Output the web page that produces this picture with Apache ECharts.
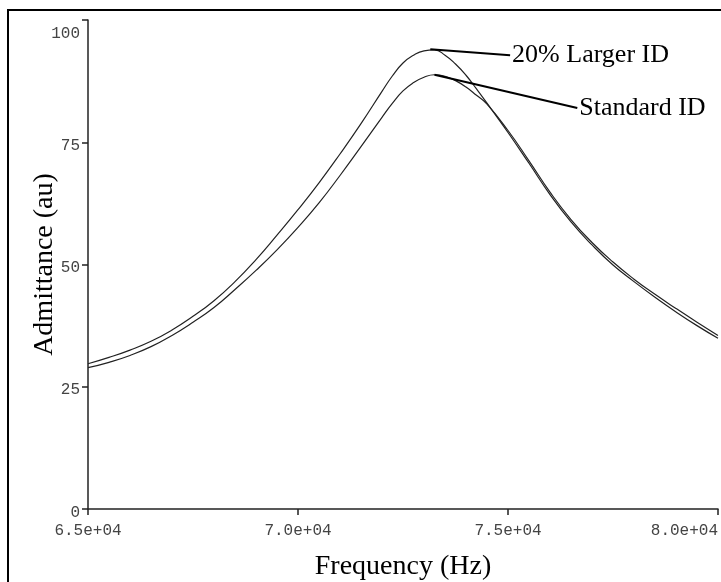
<!DOCTYPE html>
<html>
<head>
<meta charset="utf-8">
<script src="https://cdn.jsdelivr.net/npm/echarts@6/dist/echarts.min.js"></script>
<style>
html,body{margin:0;padding:0;background:#fff;}
#chart{width:721px;height:582px;}
</style>
</head>
<body>
<div id="chart"></div>
<script>
// Frequency samples (Hz)
const freqs = [65000, 65500, 66000, 66500, 67000, 67500, 68000, 68500, 69000, 69500,
  70000, 70500, 71000, 71500, 72000, 72250, 72500, 72750, 73000, 73250,
  73500, 73750, 74000, 74250, 74500, 75000, 75500, 76000, 76500, 77000,
  77500, 78000, 78500, 79000, 79500, 80000];
// Admittance (au) - 20% larger ID
const largerID = [29.7, 31.0, 32.5, 34.3, 36.6, 39.4, 42.6, 46.5, 51.0, 56.0,
  61.2, 66.7, 72.6, 78.8, 85.4, 88.6, 91.2, 92.8, 93.7, 93.9,
  92.8, 91.0, 88.7, 85.9, 83.0, 77.0, 70.7, 64.3, 58.7, 54.0,
  49.9, 46.5, 43.3, 40.3, 37.5, 34.9];
// Admittance (au) - standard ID
const standardID = [28.9, 30.0, 31.4, 33.2, 35.5, 38.2, 41.2, 44.9, 48.8, 53.0,
  57.6, 62.6, 68.2, 74.1, 80.1, 83.0, 85.5, 87.2, 88.3, 88.8,
  88.5, 87.6, 86.3, 84.6, 82.8, 77.4, 71.2, 64.8, 59.2, 54.5,
  50.5, 47.0, 43.9, 41.0, 38.2, 35.5];
const xTickValues = [65000, 70000, 75000, 80000];
const xTickLabels = ['6.5e+04', '7.0e+04', '7.5e+04', '8.0e+04'];
const yTickValues = [0, 25, 50, 75, 100];
// Annotation pointers: [from point, to point] in data units
const annotLabels = ['20% Larger ID', 'Standard ID'];
const annotFrom = [[73150, 94.0], [73250, 88.8]];
const annotTo = [[75050, 92.8], [76650, 82.0]];

const serif = '"Liberation Serif", "Times New Roman", serif';
const mono = '"Liberation Mono", "DejaVu Sans Mono", monospace';

function pairs(ys) { return freqs.map((f, i) => [f, ys[i]]); }
function annot(i) {
  return {
    silent: true,
    symbol: ['none', 'none'],
    lineStyle: { color: '#000', width: 2, type: 'solid' },
    label: {
      show: true, position: 'end', distance: 2, formatter: annotLabels[i],
      fontFamily: serif, fontSize: 26, color: '#000'
    },
    data: [[{ coord: annotFrom[i] }, { coord: annotTo[i] }]]
  };
}

const chart = echarts.init(document.getElementById('chart'), null, { renderer: 'canvas' });
chart.setOption({
  animation: false,
  backgroundColor: '#fff',
  grid: { left: 88, right: 3, top: 20, bottom: 73, containLabel: false, outerBoundsMode: 'none' },
  graphic: [{
    type: 'rect', silent: true,
    shape: { x: 8, y: 10, width: 900, height: 800 },
    style: { fill: 'none', stroke: '#000', lineWidth: 2 }
  }],
  xAxis: {
    type: 'value', min: 65000, max: 80000, interval: 5000,
    name: 'Frequency (Hz)', nameLocation: 'middle', nameGap: 44, nameMoveOverlap: false,
    nameTextStyle: { fontFamily: serif, fontSize: 28, color: '#000' },
    axisLine: { lineStyle: { color: '#222', width: 1.5 } },
    axisTick: { show: true, length: 6, lineStyle: { color: '#222', width: 1.5 } },
    splitLine: { show: false },
    axisLabel: {
      margin: 14, fontFamily: mono, fontSize: 16, color: '#444',
      alignMaxLabel: 'right',
      formatter: v => { const k = xTickValues.indexOf(v); return k >= 0 ? xTickLabels[k] : ''; }
    }
  },
  yAxis: {
    type: 'value', min: 0, max: 100, interval: 25,
    name: 'Admittance (au)', nameLocation: 'middle', nameGap: 29, nameRotate: 90, nameMoveOverlap: false,
    nameTextStyle: { fontFamily: serif, fontSize: 28, color: '#000' },
    axisLine: { show: true, lineStyle: { color: '#222', width: 1.5 } },
    axisTick: { show: true, length: 6, lineStyle: { color: '#222', width: 1.5 } },
    splitLine: { show: false },
    axisLabel: {
      margin: 8, fontFamily: mono, fontSize: 16, color: '#444',
      formatter: v => (v === yTickValues[yTickValues.length - 1] ? '{t|' + v + '}' : '{b|' + v + '}'),
      rich: {
        t: { fontFamily: mono, fontSize: 16, color: '#444', padding: [28, 0, 0, 0] },
        b: { fontFamily: mono, fontSize: 16, color: '#444', padding: [7, 0, 0, 0] }
      }
    }
  },
  series: [
    {
      name: '20% Larger ID', type: 'line', data: pairs(largerID), smooth: 0.5,
      showSymbol: false, lineStyle: { color: '#222', width: 1.2 }, markLine: annot(0)
    },
    {
      name: 'Standard ID', type: 'line', data: pairs(standardID), smooth: 0.5,
      showSymbol: false, lineStyle: { color: '#222', width: 1.2 }, markLine: annot(1)
    }
  ]
});
</script>
</body>
</html>
